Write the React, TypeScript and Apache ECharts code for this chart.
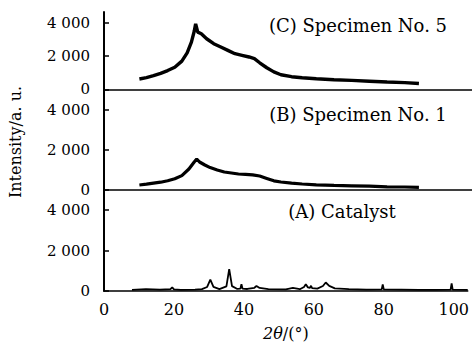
import React, { useEffect, useRef } from "react";
import * as echarts from "echarts";

// 2θ tick labels
const xTicks = [0, 20, 40, 60, 80, 100];
const yTicks = [0, 2000, 4000];

// (C) Specimen No. 5
const cX = [10, 12, 14, 16, 18, 20, 22, 23.5, 24.7, 25.5, 25.9, 26.5, 27.5, 29, 31, 33, 35, 37, 39, 41, 42.5, 44, 46, 48, 50, 53, 56, 60, 65, 70, 75, 80, 85, 89];
const cY = [620, 700, 820, 960, 1130, 1330, 1700, 2200, 2850, 3500, 3950, 3450, 3350, 3050, 2750, 2550, 2350, 2150, 2050, 1950, 1850, 1600, 1300, 1050, 880, 760, 700, 640, 580, 540, 490, 440, 400, 350];

// (B) Specimen No. 1
const bX = [10, 12, 14, 16, 18, 20, 22, 24, 25.5, 26.2, 27, 28.5, 30, 32, 34, 36, 38, 40, 42, 44, 46, 48, 50, 53, 56, 60, 65, 70, 75, 80, 85, 89];
const bY = [250, 290, 340, 390, 460, 560, 720, 1050, 1400, 1550, 1400, 1250, 1120, 1000, 900, 850, 800, 780, 760, 700, 580, 460, 400, 340, 300, 260, 230, 210, 190, 160, 150, 130];

// (A) Catalyst
const aX = [8, 12, 16, 19, 19.5, 20, 22, 26, 28, 29.5, 30.4, 31.3, 33, 35, 35.8, 36.6, 38, 39, 39.3, 39.6, 41, 43, 43.6, 44.5, 47, 52, 54, 56, 57.2, 57.7, 58.3, 58.9, 59.2, 59.5, 61, 62.6, 63.4, 64.4, 66, 70, 75, 79.4, 79.7, 80, 85, 90, 95, 99.1, 99.4, 99.7, 104];
const aY = [60, 90, 70, 90, 180, 80, 60, 70, 90, 200, 560, 200, 90, 230, 1080, 240, 110, 120, 330, 120, 100, 160, 250, 150, 90, 80, 150, 90, 200, 330, 180, 150, 260, 140, 120, 250, 420, 250, 130, 90, 70, 80, 330, 80, 70, 60, 60, 70, 370, 70, 60];

const panelLabels = ["(C) Specimen No. 5", "(B) Specimen No. 1", "(A) Catalyst"];

const FONT = "'DejaVu Serif', 'Liberation Serif', serif";

const fmt = (v: number) => String(v).replace(/\B(?=(\d{3})+(?!\d))/g, " ");

const pairs = (xs: number[], ys: number[]) => xs.map((x, i) => [x, ys[i]]);

export default function App() {
  const ref = useRef<HTMLDivElement>(null);
  useEffect(() => {
    document.body.style.margin = "0";
    if (!ref.current) return;
    const chart = echarts.init(ref.current, null, { renderer: "svg" });
    const grids = [
      { left: 104, top: 12, height: 77.3, width: 368 },
      { left: 104, top: 90, height: 100, width: 368 },
      { left: 104, top: 190, height: 102, width: 368 },
    ];
    const maxes = [4664, 5000, 5000];
    const xAxes = grids.map((_, i) => ({
      type: "value",
      gridIndex: i,
      min: 0,
      max: 104,
      interval: 20,
      axisLine: { show: true, lineStyle: { color: "#000", width: 1.5 } },
      axisTick: { show: false },
      splitLine: { show: false },
      axisLabel:
        i === 2
          ? {
              show: true,
              customValues: xTicks,
              formatter: (v: number) => (v % 20 === 0 && v <= 100 ? String(v) : ""),
              color: "#000",
              fontFamily: FONT,
              fontSize: 16,
              margin: 10,
            }
          : { show: false },
      name: i === 2 ? "{i|2θ}/(°)" : "",
      nameLocation: "middle",
      nameGap: 34,
      nameTextStyle: {
        color: "#000",
        fontFamily: FONT,
        fontSize: 16,
        rich: { i: { fontStyle: "italic", fontFamily: FONT, fontSize: 16, color: "#000" } },
      },
    }));
    const yAxes = grids.map((_, i) => ({
      type: "value",
      gridIndex: i,
      min: 0,
      max: maxes[i],
      interval: 2000,
      axisLine: { show: true, lineStyle: { color: "#000", width: 2 } },
      axisTick: { show: true, inside: true, length: 5, customValues: yTicks, lineStyle: { color: "#000", width: 1.5 } },
      splitLine: { show: false },
      axisLabel: {
        customValues: yTicks,
        formatter: (v: number) => (v % 2000 === 0 ? fmt(v) : ""),
        color: "#000",
        fontFamily: FONT,
        fontSize: 15,
        margin: 14,
      },
    }));
    const lineSeries = (idx: number, xs: number[], ys: number[], w: number) => ({
      type: "line",
      xAxisIndex: idx,
      yAxisIndex: idx,
      data: pairs(xs, ys),
      showSymbol: false,
      smooth: false,
      lineStyle: { color: "#000", width: w },
    });
    chart.setOption({
      animation: false,
      backgroundColor: "#fff",
      grid: grids,
      xAxis: xAxes,
      yAxis: yAxes,
      series: [lineSeries(0, cX, cY, 3.4), lineSeries(1, bX, bY, 3.2), lineSeries(2, aX, aY, 1.8)],
      graphic: [
        {
          type: "text",
          x: 15,
          y: 142,
          rotation: Math.PI / 2,
          style: {
            text: "Intensity/a. u.",
            fontFamily: FONT,
            fontSize: 16,
            fill: "#000",
            align: "center",
            verticalAlign: "middle",
          },
        },
        {
          type: "text",
          x: 358,
          y: 25,
          style: { text: panelLabels[0], fontFamily: FONT, fontSize: 18, fill: "#000", align: "center", verticalAlign: "middle" },
        },
        {
          type: "text",
          x: 358,
          y: 114,
          style: { text: panelLabels[1], fontFamily: FONT, fontSize: 18, fill: "#000", align: "center", verticalAlign: "middle" },
        },
        {
          type: "text",
          x: 342,
          y: 211,
          style: { text: panelLabels[2], fontFamily: FONT, fontSize: 18, fill: "#000", align: "center", verticalAlign: "middle" },
        },
      ],
    });
    return () => chart.dispose();
  }, []);
  return <div ref={ref} style={{ width: 472, height: 342 }} />;
}
